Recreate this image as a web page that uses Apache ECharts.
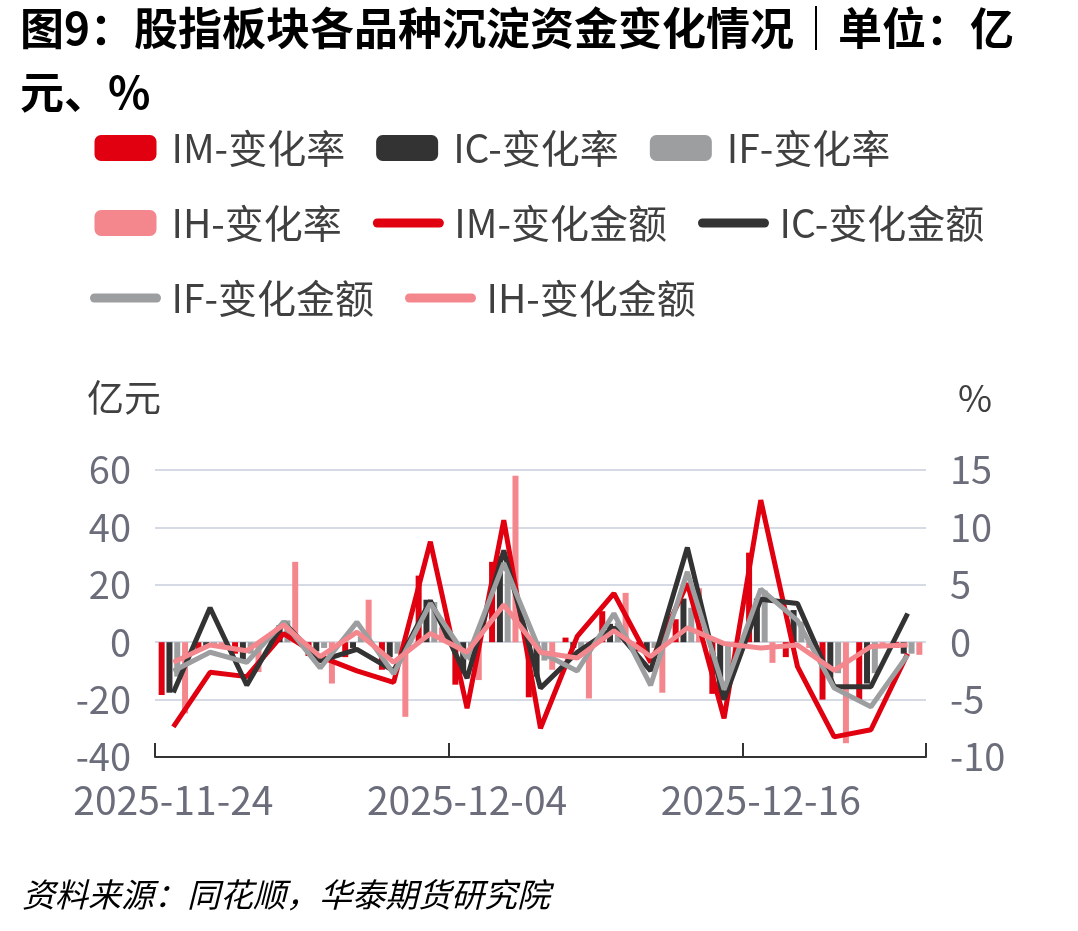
<!DOCTYPE html>
<html lang="zh">
<head>
    <meta charset="UTF-8">
    <title>股指板块各品种沉淀资金变化情况</title>
    <style>
        html, body { margin: 0; padding: 0; background: #fff; }
        #chart { width: 1078px; height: 931px; }
    </style>
</head>
<body>
<div id="chart"></div>
<script src="https://cdn.jsdelivr.net/npm/echarts@6/dist/echarts.min.js"></script>
<script>
    // 交易日
    const dates = ['2025-11-24', '2025-11-25', '2025-11-26', '2025-11-27', '2025-11-28',
        '2025-12-01', '2025-12-02', '2025-12-03', '2025-12-04', '2025-12-05',
        '2025-12-08', '2025-12-09', '2025-12-10', '2025-12-11', '2025-12-12',
        '2025-12-15', '2025-12-16', '2025-12-17', '2025-12-18', '2025-12-19',
        '2025-12-22'];

    // 变化率 %（右轴，柱）
    const imRate = [-4.6, -0.6, -1.0, 0.4, -1.2, -1.3, -2.4, 5.8, -3.7, 7.0, -4.8, 0.4, 2.7, -0.8, 2.0, -4.5, 7.8, -1.3, -5.0, -5.2, -0.5];
    const icRate = [-4.4, -0.5, -1.5, 1.5, -0.8, -0.5, -1.3, 3.7, -2.7, 7.5, -3.0, -0.5, 1.6, -1.0, 3.8, -5.0, 3.8, 2.8, -3.3, -3.6, -1.0];
    const ifRate = [-3.0, -0.3, -1.0, 1.9, -0.5, 0.5, -1.0, 3.5, -1.6, 6.0, -1.6, -0.8, 1.7, -0.5, 3.0, -3.9, 4.5, 1.8, -2.7, -2.7, -1.0];
    const ihRate = [-6.2, -0.3, -2.6, 7.0, -3.6, 3.7, -6.5, 1.3, -3.3, 14.5, -2.4, -4.9, 4.3, -4.4, 4.7, -1.0, -1.8, -0.5, -8.8, -0.3, -1.1];

    // 变化金额 亿元（左轴，线）
    const imAmt = [-29.5, -10.5, -12, 3, -5, -10, -14, 35, -23, 42.5, -30, 2, 17, -7, 20.5, -26.5, 49.5, -8.5, -33, -30.5, -4];
    const icAmt = [-17.5, 12, -15, 7, -6.5, -2.5, -10, 14.5, -12.5, 32, -16, -3.5, 5, -10, 33, -20, 15, 13.5, -15.5, -15.5, 10];
    const ifAmt = [-10, -3.5, -7, 7, -9, 7, -11, 13.5, -5.5, 27.5, -3.5, -10, 10, -15, 24.5, -16.5, 18.5, 7.5, -16, -22.5, -4.5];
    const ihAmt = [-7, -1, -3, 6, -5, 3.5, -7, 3, -3.5, 13, -3.5, -5.5, 4, -5, 5, -0.5, -2, -1, -9.8, -1.5, -1];

    const FONT = '"Noto Sans CJK SC", "Noto Sans", sans-serif';
    const AXIS_COLOR = '#6b6d7b';
    const colors = { IM: '#e0000f', IC: '#333333', IF: '#9d9ea0', IH: '#f4878d' };

    let myChart = echarts.init(document.getElementById('chart'));

    function barSeries(name, data, color) {
        return {
            name: name,
            type: 'bar',
            yAxisIndex: 1,
            data: data,
            barWidth: 6,
            barGap: '30%',
            itemStyle: { color: color },
            z: 1
        };
    }

    function lineSeries(name, data, color, z) {
        return {
            name: name,
            type: 'line',
            yAxisIndex: 0,
            data: data,
            symbol: 'none',
            lineStyle: { color: color, width: 5 },
            itemStyle: { color: color },
            z: z
        };
    }

    // 线系列的图例只画线，不画圆点
    const barNames = ['IM-变化率', 'IC-变化率', 'IF-变化率', 'IH-变化率'];
    const lineNames = ['IM-变化金额', 'IC-变化金额', 'IF-变化金额', 'IH-变化金额'];
    const legendData = barNames.map(n => ({ name: n }))
        .concat(lineNames.map(n => ({ name: n, itemStyle: { opacity: 0 } })));

    let option = {
        animation: false,
        textStyle: { fontFamily: FONT },
        title: {
            text: '图9：股指板块各品种沉淀资金变化情况｜单位：亿\n元、%',
            left: 20,
            top: -4,
            padding: 0,
            textStyle: {
                fontFamily: FONT,
                fontSize: 44,
                fontWeight: 'bold',
                color: '#000',
                lineHeight: 64
            }
        },
        legend: {
            left: 90,
            right: 30,
            top: 126,
            padding: 0,
            itemWidth: 62,
            itemHeight: 26,
            itemGap: 31,
            lineStyle: { width: 9, cap: 'round' },
            textStyle: {
                fontFamily: FONT,
                fontSize: 39,
                color: '#404040',
                lineHeight: 44,
                padding: [0, 0, 0, 10]
            },
            data: legendData
        },
        grid: {
            left: 155,
            right: 152,
            top: 470,
            bottom: 174
        },
        xAxis: {
            type: 'category',
            data: dates,
            boundaryGap: true,
            axisLine: { onZero: false, lineStyle: { color: '#333', width: 2 } },
            axisTick: { show: true, inside: true, interval: 7, length: 14, lineStyle: { color: '#333', width: 2 } },
            axisLabel: { interval: 7, margin: 24, fontSize: 39, color: AXIS_COLOR, fontFamily: FONT },
            splitLine: { show: false }
        },
        yAxis: [
            {
                type: 'value',
                name: '亿元',
                nameLocation: 'end',
                nameGap: 54,
                nameTextStyle: { fontSize: 37, color: '#404040', align: 'right', padding: [0, -6, 0, 0], fontFamily: FONT },
                min: -40,
                max: 60,
                interval: 20,
                axisLine: { show: false },
                axisTick: { show: false },
                axisLabel: { fontSize: 38, color: AXIS_COLOR, margin: 24, fontFamily: FONT },
                splitLine: { show: true, lineStyle: { color: '#d6dae4', width: 2 } }
            },
            {
                type: 'value',
                name: '%',
                nameLocation: 'end',
                nameGap: 54,
                nameTextStyle: { fontSize: 37, color: '#404040', align: 'left', padding: [0, 0, 0, 32], fontFamily: FONT },
                min: -10,
                max: 15,
                interval: 5,
                axisLine: { show: false },
                axisTick: { show: false },
                axisLabel: { fontSize: 38, color: AXIS_COLOR, margin: 24, fontFamily: FONT },
                splitLine: { show: false }
            }
        ],
        graphic: [
            {
                type: 'text',
                left: 22,
                top: 878,
                style: {
                    text: '资料来源：同花顺，华泰期货研究院',
                    font: 'italic 33px "Noto Sans CJK SC", sans-serif',
                    fill: '#000'
                }
            }
        ],
        series: [
            barSeries('IM-变化率', imRate, colors.IM),
            barSeries('IC-变化率', icRate, colors.IC),
            barSeries('IF-变化率', ifRate, colors.IF),
            barSeries('IH-变化率', ihRate, colors.IH),
            lineSeries('IM-变化金额', imAmt, colors.IM, 3),
            lineSeries('IC-变化金额', icAmt, colors.IC, 4),
            lineSeries('IF-变化金额', ifAmt, colors.IF, 5),
            lineSeries('IH-变化金额', ihAmt, colors.IH, 6)
        ]
    };
    myChart.setOption(option);
</script>
</body>
</html>
